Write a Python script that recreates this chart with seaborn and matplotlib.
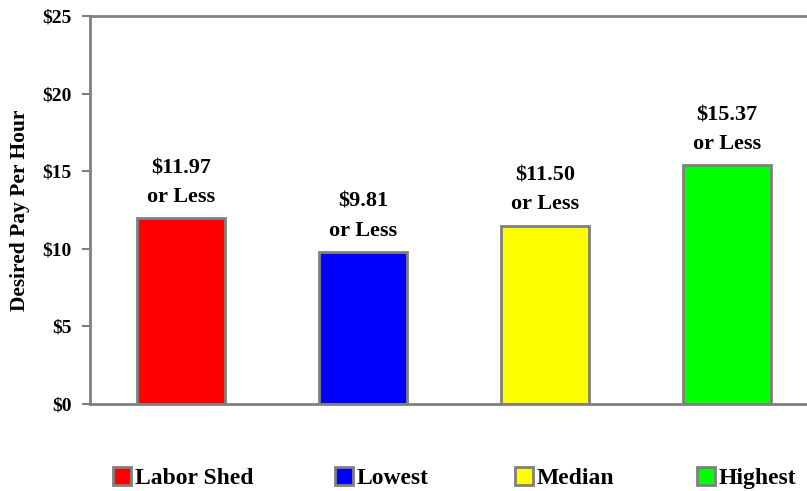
import matplotlib
matplotlib.use("Agg")
import matplotlib.pyplot as plt
import seaborn as sns
import pandas as pd
from matplotlib.ticker import FuncFormatter

categories = ["Labor Shed", "Lowest", "Median", "Highest"]
pay = [11.97, 9.81, 11.50, 15.37]
colors = ["#FF0000", "#0000FF", "#FFFF00", "#00FF00"]
yticks = [0, 5, 10, 15, 20, 25]

sns.set_theme(style="white")
plt.rcParams["font.family"] = ["Liberation Serif", "DejaVu Serif"]
plt.rcParams["font.weight"] = "bold"
plt.rcParams["text.color"] = "black"
plt.rcParams["ytick.labelcolor"] = "black"

df = pd.DataFrame({"group": categories, "pay": pay})

W, H = 807, 491
fig = plt.figure(figsize=(W / 100, H / 100), dpi=100)
ax = fig.add_axes([90 / W, 1 - 404 / H, 728 / W, (404 - 16) / H])

sns.barplot(data=df, x="group", y="pay", hue="group", palette=colors,
            order=categories, hue_order=categories, dodge=False,
            width=0.48, edgecolor="#808080", linewidth=2, saturation=1,
            legend=True, ax=ax)

ax.set_ylim(0, 25)
ax.set_xlim(-0.5, 3.5)
ax.set_yticks(yticks)
ax.yaxis.set_major_formatter(FuncFormatter(lambda v, p: f"${v:.0f}"))
ax.tick_params(axis="y", which="major", left=True, length=6, width=1.5,
               color="#808080", labelsize=14, pad=7, labelcolor="black")
ax.tick_params(axis="x", bottom=False, labelbottom=False)
for lbl in ax.get_yticklabels():
    lbl.set_fontweight("bold")
ax.set_xlabel("")
ax.set_ylabel("Desired Pay Per Hour", fontsize=15.5, fontweight="bold",
              color="black")
ax.yaxis.set_label_coords(-60 / 728, 0.5)

for side in ["left", "bottom", "top", "right"]:
    ax.spines[side].set_color("#808080")
    ax.spines[side].set_linewidth(2)

# value labels above each bar
for patch, val in zip(ax.patches, pay):
    cx = patch.get_x() + patch.get_width() / 2
    ax.annotate(f"${val:.2f}\nor Less", xy=(cx, val), xytext=(0, 8),
                textcoords="offset points", ha="center", va="bottom",
                fontsize=16, fontweight="bold", linespacing=1.6,
                color="black")

# legend entries laid out along the bottom
handles, labels = ax.get_legend_handles_labels()
ax.get_legend().remove()
legend_x = [113, 335, 515, 697]
for h, lab, x in zip(handles, labels, legend_x):
    h.set_edgecolor("#808080")
    h.set_linewidth(2)
    fig.legend([h], [lab], loc="center left",
               bbox_to_anchor=(x / W, 1 - 478 / H),
               frameon=False, borderpad=0, borderaxespad=0,
               handlelength=0.78, handleheight=0.78, handletextpad=0.15,
               prop={"size": 17, "weight": "bold"})

fig.savefig("out.png", dpi=100)
